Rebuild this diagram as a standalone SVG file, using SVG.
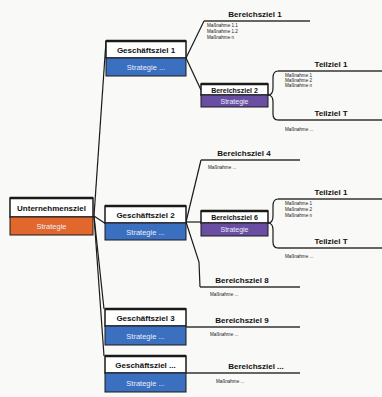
<svg xmlns="http://www.w3.org/2000/svg" width="382" height="397" viewBox="0 0 382 397">
<defs>
<style>
.bg{fill:#f9f9f7}
.wb{fill:#ffffff;stroke:#1a1a1a;stroke-width:1.5}
.top{stroke:#1a1a1a;stroke-width:2.5}
.or{fill:#e2672c;stroke:#1a1a1a;stroke-width:1}
.bl{fill:#3b6fbf;stroke:#1a1a1a;stroke-width:1}
.pu{fill:#6a4ea3;stroke:#1a1a1a;stroke-width:1}
.t{font-family:"Liberation Sans",Arial,sans-serif;font-weight:bold;font-size:8px;fill:#111;text-anchor:middle}
.tb{font-family:"Liberation Sans",Arial,sans-serif;font-weight:bold;font-size:7px;fill:#111;text-anchor:middle}
.tw{font-family:"Liberation Sans",Arial,sans-serif;font-size:7.5px;fill:#e8eefa;text-anchor:middle}
.tw2{font-family:"Liberation Sans",Arial,sans-serif;font-size:7px;fill:#e8eefa;text-anchor:middle}
.tl{font-family:"Liberation Sans",Arial,sans-serif;font-weight:bold;font-size:8px;fill:#111;text-anchor:middle}
.ts{font-family:"Liberation Sans",Arial,sans-serif;font-size:4.6px;fill:#222}
.ln{fill:none;stroke:#1a1a1a;stroke-width:1.2}
.hl{fill:none;stroke:#333;stroke-width:1.6}
</style>
</defs>
<rect class="bg" x="0" y="0" width="382" height="397"/>

<g id="connectors">
<path class="ln" d="M94,216 L106,41"/>
<path class="ln" d="M94,216 L106,224"/>
<path class="ln" d="M94,216 L104,309"/>
<path class="ln" d="M94,216 L104,356"/>
<path class="ln" d="M186,58 L204,21"/>
<path class="ln" d="M186,58 L201,90"/>
<path class="ln" d="M268,95 Q273,95 273,88 L273,78 Q273,71 278,71"/>
<path class="ln" d="M268,95 Q273,95 273,102 L273,114 Q273,120 278,120"/>
<path class="ln" d="M186,222 L201,160"/>
<path class="ln" d="M186,222 L201,222"/>
<path class="ln" d="M186,222 L199,262 L200,287"/>
<path class="ln" d="M268,223 Q273,223 273,216 L273,206 Q273,199 278,199"/>
<path class="ln" d="M268,223 Q273,223 273,230 L273,242 Q273,248 278,248"/>
</g>

<g id="root">
<rect class="wb" x="10" y="198" width="83" height="19"/>
<line class="top" x1="10" y1="198" x2="93" y2="198"/>
<rect class="or" x="10" y="217" width="83" height="18"/>
<text class="t" x="51.5" y="211">Unternehmensziel</text>
<text class="tw" x="51.5" y="229">Strategie</text>
</g>

<g id="g1">
<rect class="wb" x="106" y="41" width="80" height="17"/>
<line class="top" x1="106" y1="41" x2="186" y2="41"/>
<rect class="bl" x="106" y="58" width="80" height="18"/>
<text class="t" x="146" y="52.5">Geschäftsziel 1</text>
<text class="tw" x="146" y="69.5">Strategie ...</text>
</g>

<g id="b1">
<line class="hl" x1="204" y1="21" x2="310" y2="21"/>
<text class="tl" x="255" y="17">Bereichsziel 1</text>
<text class="ts" x="207" y="27">Maßnahme 1.1</text>
<text class="ts" x="207" y="33">Maßnahme 1.2</text>
<text class="ts" x="207" y="39">Maßnahme n</text>
</g>

<g id="b2">
<rect class="wb" x="201" y="84" width="67" height="11"/>
<line class="top" x1="201" y1="84" x2="268" y2="84"/>
<rect class="pu" x="201" y="95" width="67" height="12"/>
<text class="tb" x="234.5" y="92.5">Bereichsziel 2</text>
<text class="tw2" x="234.5" y="103.5">Strategie</text>
</g>

<g id="t1">
<line class="hl" x1="278" y1="71" x2="382" y2="71"/>
<text class="tl" x="331" y="67">Teilziel 1</text>
<text class="ts" x="285" y="77">Maßnahme 1</text>
<text class="ts" x="285" y="82">Maßnahme 2</text>
<text class="ts" x="285" y="87">Maßnahme n</text>
</g>

<g id="t2">
<line class="hl" x1="278" y1="120" x2="382" y2="120"/>
<text class="tl" x="331" y="116">Teilziel T</text>
<text class="ts" x="285" y="131">Maßnahme ...</text>
</g>

<g id="b4">
<line class="hl" x1="201" y1="160" x2="300" y2="160"/>
<text class="tl" x="244" y="156">Bereichsziel 4</text>
<text class="ts" x="208" y="169">Maßnahme ...</text>
</g>

<g id="g2">
<rect class="wb" x="105" y="206" width="81" height="17"/>
<line class="top" x1="105" y1="206" x2="186" y2="206"/>
<rect class="bl" x="105" y="223" width="81" height="17"/>
<text class="t" x="145.5" y="217.5">Geschäftsziel 2</text>
<text class="tw" x="145.5" y="234.5">Strategie ...</text>
</g>

<g id="b6">
<rect class="wb" x="201" y="211" width="67" height="12"/>
<line class="top" x1="201" y1="211" x2="268" y2="211"/>
<rect class="pu" x="201" y="223" width="67" height="13"/>
<text class="tb" x="234.5" y="219.5">Bereichsziel 6</text>
<text class="tw2" x="234.5" y="232">Strategie</text>
</g>

<g id="t3">
<line class="hl" x1="278" y1="199" x2="382" y2="199"/>
<text class="tl" x="331" y="195">Teilziel 1</text>
<text class="ts" x="285" y="205">Maßnahme 1</text>
<text class="ts" x="285" y="211">Maßnahme 2</text>
<text class="ts" x="285" y="217">Maßnahme n</text>
</g>

<g id="t4">
<line class="hl" x1="278" y1="248" x2="382" y2="248"/>
<text class="tl" x="331" y="244">Teilziel T</text>
<text class="ts" x="285" y="258">Maßnahme ...</text>
</g>

<g id="b8">
<line class="hl" x1="200" y1="287" x2="300" y2="287"/>
<text class="tl" x="242" y="283">Bereichsziel 8</text>
<text class="ts" x="210" y="296">Maßnahme ...</text>
</g>

<g id="g3">
<rect class="wb" x="105" y="309" width="81" height="17"/>
<line class="top" x1="105" y1="309" x2="186" y2="309"/>
<rect class="bl" x="105" y="326" width="81" height="19"/>
<text class="t" x="145.5" y="320.5">Geschäftsziel 3</text>
<text class="tw" x="145.5" y="338.5">Strategie ...</text>
</g>

<g id="b9">
<line class="hl" x1="186" y1="327" x2="300" y2="327"/>
<text class="tl" x="242" y="323">Bereichsziel 9</text>
<text class="ts" x="210" y="336">Maßnahme ...</text>
</g>

<g id="g4">
<rect class="wb" x="105" y="356" width="81" height="17"/>
<line class="top" x1="105" y1="356" x2="186" y2="356"/>
<rect class="bl" x="105" y="373" width="81" height="19"/>
<text class="t" x="145.5" y="367.5">Geschäftsziel ...</text>
<text class="tw" x="145.5" y="385.5">Strategie ...</text>
</g>

<g id="b10">
<line class="hl" x1="186" y1="373" x2="300" y2="373"/>
<text class="tl" x="256" y="369">Bereichsziel ...</text>
<text class="ts" x="216" y="383">Maßnahme ...</text>
</g>
</svg>
